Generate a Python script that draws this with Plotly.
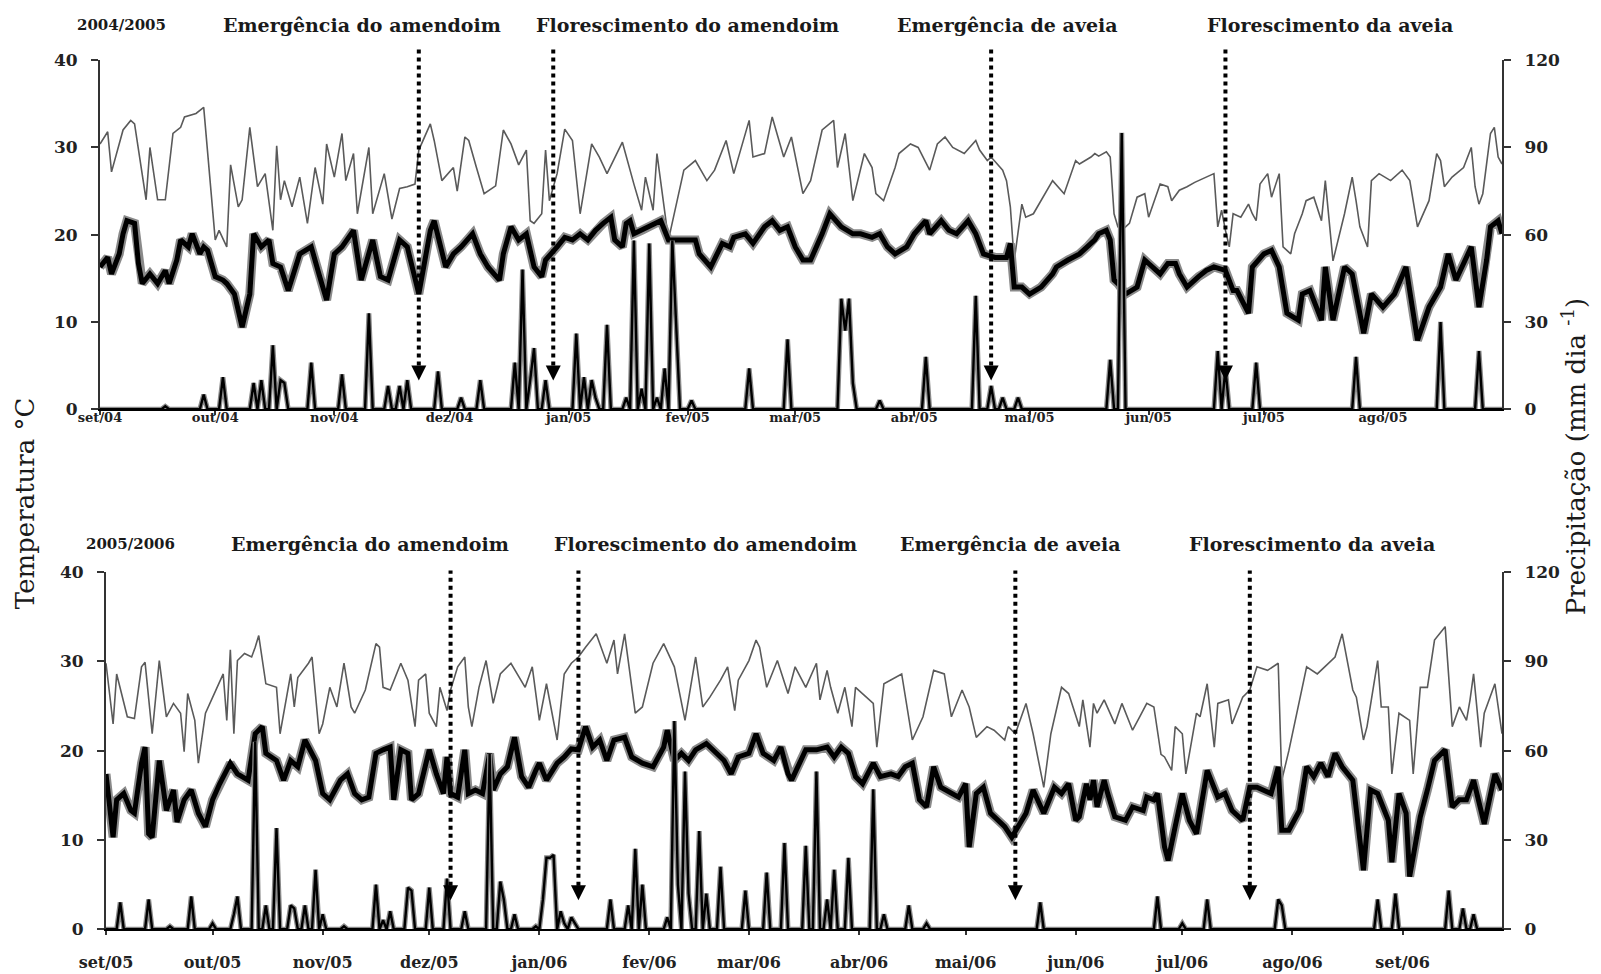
import pandas as pd
import plotly.graph_objects as go

# ---------------- 2004/2005 (day counted from 1 Sep 2004) ----------------
start_0405 = pd.Timestamp('2004-09-01')
end_0405 = pd.Timestamp('2005-09-01')
months_0405 = ['set/04', 'out/04', 'nov/04', 'dez/04', 'jan/05', 'fev/05',
               'mar/05', 'abr/05', 'mai/05', 'jun/05', 'jul/05', 'ago/05']

# max temperature (day, °C)
tmax_0405 = [
    (0, 30.4), (2, 31.8), (3, 27.2), (6, 32.0), (8, 33.1), (9, 32.7), (12, 24.0), (13, 30.0), (15, 24.0),
    (17, 24.0), (19, 31.6), (21, 32.3), (22, 33.5), (25, 33.9), (27, 34.6), (30, 19.4), (31, 20.5), (33, 18.6),
    (34, 28.0), (36, 23.2), (37, 24.0), (39, 32.3), (41, 25.5), (43, 27.0), (45, 20.5), (46, 30.2), (47, 24.0),
    (48, 26.2), (50, 23.2), (52, 26.6), (54, 21.3), (56, 27.7), (58, 23.5), (59, 30.4), (61, 26.6), (63, 31.6),
    (64, 26.2), (66, 29.3), (67, 22.4), (70, 30.0), (71, 22.4), (74, 27.0), (76, 21.8), (78, 25.3), (80, 25.5),
    (82, 25.8), (83, 29.7), (86, 32.7), (87, 30.8), (89, 26.2), (92, 27.7), (93, 25.0), (95, 31.2), (96, 30.8),
    (98, 27.7), (100, 24.7), (103, 25.6), (105, 32.0), (107, 30.4), (109, 28.0), (111, 29.7), (112, 21.6),
    (113, 21.3), (115, 22.4), (116, 29.7), (117, 23.9), (119, 27.0), (121, 32.1), (123, 30.8), (125, 22.4),
    (128, 30.4), (130, 28.9), (132, 27.0), (136, 30.6), (139, 25.8), (141, 22.8), (142, 26.6), (144, 22.8),
    (145, 29.3), (147, 22.8), (148, 19.4), (152, 27.4), (155, 28.5), (158, 26.2), (160, 27.4), (163, 30.8),
    (165, 27.0), (169, 33.1), (170, 28.9), (173, 29.3), (175, 33.5), (178, 28.9), (180, 31.2), (183, 24.7),
    (185, 26.2), (188, 32.0), (191, 33.1), (192, 27.7), (194, 31.6), (196, 23.9), (199, 29.3), (201, 27.7),
    (202, 24.7), (204, 23.9), (207, 27.7), (208, 29.3), (211, 30.4), (213, 30.0), (216, 27.4), (218, 30.4),
    (220, 31.2), (222, 30.0), (225, 29.3), (228, 30.8), (229, 29.7), (231, 28.5), (232, 28.9), (235, 27.4),
    (236, 26.2), (237, 23.2), (238, 17.0), (240, 23.5), (241, 22.0), (243, 22.4), (246, 24.7), (248, 26.2),
    (251, 24.7), (254, 28.5), (255, 28.1), (258, 28.9), (259, 29.3), (260, 29.0), (262, 29.5), (263, 28.9),
    (264, 22.4), (265, 20.9), (266, 20.5), (268, 21.3), (270, 24.3), (272, 24.7), (273, 22.0), (276, 25.8),
    (278, 25.5), (279, 23.9), (281, 25.1), (283, 25.5), (285, 26.0), (286, 26.2), (288, 26.6), (290, 27.0),
    (291, 20.9), (292, 22.8), (293, 20.5), (294, 18.6), (295, 22.4), (297, 22.0), (299, 23.5), (300, 22.4),
    (301, 21.6), (302, 25.8), (304, 27.0), (305, 24.3), (307, 27.0), (308, 18.6), (310, 17.8), (311, 20.1),
    (313, 22.4), (314, 23.9), (316, 24.3), (318, 21.6), (319, 26.2), (321, 17.0), (324, 22.4), (326, 26.6),
    (327, 23.9), (328, 20.9), (330, 18.6), (331, 26.2), (333, 27.0), (336, 26.2), (339, 27.4), (341, 26.2),
    (343, 20.9), (346, 23.9), (348, 29.3), (349, 28.5), (350, 25.5), (352, 26.6), (355, 27.7), (357, 30.0),
    (358, 25.5), (359, 23.5), (360, 24.7), (362, 31.6), (363, 32.3), (364, 28.9), (365, 28.1),
]

# min temperature (day, °C)
tmin_0405 = [
    (0, 16.3), (2, 17.4), (3, 15.5), (5, 17.8), (6, 20.1), (7, 21.6), (9, 21.3), (10, 16.7), (11, 14.4),
    (13, 15.5), (15, 14.4), (17, 15.9), (18, 14.4), (20, 17.1), (21, 19.4), (23, 18.6), (24, 20.1), (26, 17.8),
    (27, 18.6), (28, 18.2), (30, 15.2), (32, 14.8), (33, 14.4), (35, 13.2), (37, 9.4), (39, 13.2), (40, 20.1),
    (42, 18.6), (44, 19.4), (45, 16.7), (47, 16.3), (49, 13.6), (52, 17.8), (55, 18.6), (57, 15.5), (59, 12.5),
    (61, 17.8), (63, 18.6), (66, 20.5), (68, 14.8), (71, 19.4), (73, 15.2), (75, 14.8), (78, 19.4), (80, 18.6),
    (83, 13.2), (86, 20.5), (87, 21.6), (90, 16.3), (92, 17.8), (94, 18.6), (97, 20.1), (99, 17.8), (101, 16.3),
    (104, 14.8), (105, 17.8), (107, 20.9), (109, 19.4), (111, 20.1), (113, 16.3), (115, 15.2), (116, 17.1),
    (119, 18.6), (121, 19.7), (123, 19.4), (125, 20.1), (127, 19.4), (129, 20.5), (131, 21.3), (133, 22.0),
    (134, 19.4), (136, 18.6), (137, 21.3), (138, 21.6), (139, 20.1), (141, 20.5), (143, 20.9), (146, 21.6),
    (148, 19.4), (149, 19.4), (151, 19.4), (155, 19.4), (156, 17.8), (159, 16.3), (162, 19.0), (164, 18.6),
    (165, 19.7), (168, 20.1), (170, 19.0), (173, 20.9), (175, 21.6), (177, 20.5), (179, 20.9), (181, 18.6),
    (183, 17.1), (185, 17.1), (188, 20.1), (190, 22.4), (193, 20.9), (196, 20.1), (198, 20.1), (201, 19.7),
    (203, 20.1), (205, 18.6), (207, 17.8), (210, 18.6), (212, 20.1), (215, 21.6), (216, 20.1), (219, 21.6),
    (221, 20.5), (223, 20.1), (226, 21.6), (228, 20.1), (230, 17.8), (233, 17.4), (236, 17.4), (237, 19.0),
    (238, 14.0), (240, 14.0), (242, 13.2), (245, 14.0), (248, 15.5), (249, 16.3), (252, 17.1), (255, 17.8),
    (257, 18.6), (259, 19.4), (260, 20.1), (262, 20.5), (263, 19.4), (264, 14.8), (265, 14.4), (267, 13.2),
    (270, 14.0), (272, 17.1), (273, 16.7), (276, 15.5), (278, 16.7), (280, 16.7), (281, 15.5), (283, 14.0),
    (286, 15.2), (288, 15.9), (290, 16.3), (293, 15.9), (295, 13.6), (296, 13.6), (299, 11.0), (300, 16.3),
    (303, 17.8), (305, 18.2), (307, 16.3), (309, 11.0), (312, 10.2), (313, 13.2), (315, 13.6), (318, 10.2),
    (319, 16.3), (321, 10.2), (324, 16.3), (326, 15.5), (329, 8.7), (331, 13.2), (334, 11.7), (337, 13.2),
    (340, 16.3), (343, 7.9), (346, 11.7), (349, 14.0), (351, 17.8), (353, 14.8), (357, 18.6), (359, 11.7),
    (361, 17.1), (362, 20.9), (364, 21.6), (365, 20.1),
]

# rainy days (day, mm); all other days are dry (0 mm)
rain_0405 = [
    (17, 1), (27, 5), (32, 11), (40, 9), (42, 10), (45, 22), (47, 10), (48, 9), (55, 16), (63, 12), (70, 33),
    (75, 8), (78, 8), (80, 10), (88, 13), (94, 4), (99, 10), (108, 16), (110, 48), (112, 10), (113, 21),
    (116, 10), (124, 26), (126, 11), (128, 10), (129, 4), (132, 29), (137, 4), (139, 58), (141, 7), (143, 57),
    (145, 4), (147, 14), (149, 58), (150, 26), (154, 3), (169, 14), (179, 24), (193, 38), (194, 27), (195, 38),
    (196, 9), (203, 3), (215, 18), (228, 39), (232, 8), (235, 4), (239, 4), (263, 17), (266, 95), (291, 20),
    (293, 14), (301, 16), (327, 18), (349, 30), (359, 20),
]
events_0405 = ['2004-11-23', '2004-12-28', '2005-04-21', '2005-06-21']

# ---------------- 2005/2006 (day counted from 1 Sep 2005) ----------------
start_0506 = pd.Timestamp('2005-09-01')
end_0506 = pd.Timestamp('2006-09-29')
months_0506 = ['set/05', 'out/05', 'nov/05', 'dez/05', 'jan/06', 'fev/06', 'mar/06',
               'abr/06', 'mai/06', 'jun/06', 'jul/06', 'ago/06', 'set/06']

tmax_0506 = [
    (0, 29.8), (2, 23.0), (3, 28.6), (6, 23.8), (8, 23.6), (10, 29.4), (11, 29.9), (13, 21.9), (15, 30.1),
    (17, 23.8), (19, 25.3), (21, 24.2), (22, 19.9), (23, 26.4), (25, 23.4), (26, 18.6), (28, 24.2), (31, 26.8),
    (33, 28.6), (34, 23.4), (35, 31.3), (36, 21.9), (37, 30.1), (39, 30.9), (41, 30.5), (42, 31.6), (43, 32.9),
    (45, 27.5), (48, 27.1), (49, 21.9), (52, 28.6), (53, 24.9), (54, 28.2), (57, 29.8), (58, 30.5), (60, 21.9),
    (61, 23.0), (63, 27.1), (65, 24.9), (67, 29.8), (69, 24.9), (70, 24.2), (72, 26.0), (73, 26.8), (76, 32.0),
    (77, 31.6), (78, 27.1), (80, 26.8), (83, 29.8), (85, 27.9), (87, 22.7), (88, 27.9), (90, 28.6), (91, 24.2),
    (93, 22.7), (94, 27.1), (96, 24.5), (97, 26.8), (99, 29.4), (101, 30.5), (102, 24.9), (103, 22.7),
    (105, 27.1), (107, 30.1), (109, 25.3), (111, 28.6), (114, 29.8), (118, 27.1), (120, 29.4), (122, 23.4),
    (124, 27.5), (127, 21.2), (129, 28.6), (131, 29.8), (133, 30.5), (135, 31.6), (138, 33.1), (141, 29.8),
    (143, 32.4), (144, 28.6), (146, 33.1), (149, 24.2), (151, 24.9), (154, 29.8), (157, 32.0), (160, 29.4),
    (163, 23.4), (166, 30.5), (168, 24.9), (170, 26.0), (173, 27.9), (175, 29.4), (177, 24.5), (178, 27.9),
    (181, 30.1), (183, 32.4), (184, 31.6), (186, 27.1), (189, 30.1), (192, 26.4), (194, 29.4), (197, 27.1),
    (200, 29.8), (201, 25.7), (203, 29.0), (204, 27.1), (206, 24.2), (208, 27.1), (210, 22.7), (211, 27.1),
    (216, 25.3), (217, 20.4), (219, 27.5), (224, 28.6), (227, 21.2), (230, 23.8), (233, 29.0), (236, 28.6),
    (238, 23.8), (241, 26.8), (243, 24.9), (245, 21.5), (248, 22.7), (250, 22.3), (253, 21.2), (254, 22.7),
    (256, 21.9), (259, 25.3), (261, 21.9), (264, 15.9), (266, 21.9), (269, 27.1), (271, 26.4), (274, 22.7),
    (275, 25.7), (277, 20.4), (278, 25.3), (279, 24.2), (281, 25.7), (284, 23.0), (286, 25.3), (289, 22.3),
    (291, 23.8), (293, 25.3), (295, 24.9), (297, 19.6), (298, 19.3), (300, 17.8), (301, 22.7), (303, 21.9),
    (304, 17.4), (307, 24.2), (308, 23.8), (310, 27.5), (312, 20.4), (313, 25.3), (316, 25.7), (317, 23.0),
    (320, 26.0), (322, 26.8), (324, 29.4), (327, 29.0), (330, 29.8), (331, 16.7), (333, 20.0), (338, 29.4),
    (341, 28.6), (344, 29.8), (346, 30.5), (348, 33.1), (351, 26.8), (352, 26.0), (354, 21.2), (355, 22.7),
    (358, 30.1), (359, 24.9), (361, 24.9), (362, 17.4), (364, 24.2), (367, 23.4), (368, 17.4), (370, 27.1),
    (372, 27.1), (374, 32.4), (377, 33.9), (379, 22.7), (381, 24.9), (383, 23.4), (384, 25.7), (385, 28.6),
    (387, 20.4), (388, 24.2), (391, 27.5), (393, 21.9),
]

tmin_0506 = [
    (0, 17.4), (2, 10.3), (3, 14.5), (5, 15.2), (7, 13.3), (8, 13.0), (10, 18.6), (11, 20.4), (12, 10.7),
    (13, 10.3), (15, 18.9), (17, 13.3), (19, 15.6), (20, 12.0), (22, 14.5), (24, 15.6), (26, 13.0), (28, 11.5),
    (30, 14.5), (32, 16.3), (35, 18.6), (37, 17.4), (40, 16.7), (42, 21.9), (44, 22.7), (45, 19.7), (48, 18.9),
    (50, 16.7), (52, 18.9), (54, 18.2), (56, 21.2), (59, 18.9), (61, 15.2), (63, 14.5), (66, 16.7), (68, 17.4),
    (70, 15.2), (72, 14.5), (74, 14.8), (76, 19.7), (78, 20.1), (80, 20.4), (81, 14.5), (83, 20.1), (85, 19.7),
    (86, 14.5), (88, 15.2), (91, 20.1), (93, 17.4), (95, 15.2), (96, 19.3), (97, 15.2), (99, 14.8), (101, 20.1),
    (102, 15.2), (104, 15.6), (106, 15.2), (108, 19.7), (109, 15.6), (111, 17.4), (113, 18.2), (115, 21.5),
    (117, 17.1), (119, 15.9), (121, 17.8), (122, 18.6), (124, 16.7), (127, 18.6), (129, 19.3), (131, 20.2),
    (133, 20.1), (135, 22.7), (137, 20.4), (139, 21.2), (141, 18.9), (143, 21.2), (146, 21.5), (148, 19.3),
    (151, 18.6), (154, 18.2), (157, 20.4), (158, 22.3), (160, 18.9), (162, 19.7), (164, 18.9), (166, 20.1),
    (169, 20.8), (172, 19.7), (174, 18.9), (176, 17.4), (178, 19.3), (181, 19.7), (183, 21.9), (185, 19.7),
    (188, 18.9), (190, 20.4), (192, 17.4), (193, 16.7), (197, 20.1), (200, 20.1), (203, 20.4), (205, 19.3),
    (207, 20.4), (209, 19.7), (211, 17.1), (213, 16.3), (216, 18.6), (218, 17.1), (221, 17.4), (223, 17.1),
    (225, 18.2), (227, 18.6), (229, 14.5), (231, 13.7), (233, 18.2), (235, 15.9), (238, 15.2), (240, 14.8),
    (242, 16.3), (243, 9.2), (245, 15.2), (247, 15.9), (249, 13.0), (251, 12.2), (253, 11.5), (255, 10.3),
    (257, 11.8), (259, 13.0), (261, 15.6), (264, 13.0), (267, 15.9), (269, 15.2), (271, 16.3), (273, 12.2),
    (274, 12.6), (276, 16.3), (277, 14.5), (278, 16.7), (279, 13.7), (281, 16.7), (282, 15.2), (284, 12.6),
    (287, 12.2), (289, 13.7), (292, 13.3), (293, 14.8), (295, 14.5), (296, 15.2), (298, 9.2), (299, 7.7),
    (301, 11.5), (303, 15.2), (305, 12.2), (307, 10.7), (310, 17.8), (313, 14.8), (315, 15.2), (317, 13.3),
    (320, 12.2), (322, 15.9), (324, 15.9), (328, 15.2), (330, 18.2), (331, 11.1), (333, 11.1), (336, 13.3),
    (338, 18.2), (340, 17.1), (342, 18.6), (344, 17.1), (346, 19.7), (348, 18.2), (351, 16.7), (354, 6.6),
    (356, 15.6), (358, 15.2), (361, 12.2), (362, 7.5), (364, 15.2), (366, 13.0), (367, 5.9), (370, 12.6),
    (372, 15.6), (374, 18.9), (377, 20.1), (379, 13.7), (381, 14.5), (383, 14.5), (385, 16.7), (387, 13.0),
    (388, 11.8), (391, 17.4), (393, 15.6),
]

rain_0506 = [
    (4, 9), (12, 10), (18, 1), (24, 11), (30, 2), (36, 5), (37, 11), (42, 63), (45, 8), (48, 34), (52, 8),
    (53, 7), (56, 8), (59, 20), (61, 5), (67, 1), (76, 15), (78, 3), (80, 6), (85, 14), (86, 13), (91, 14),
    (96, 17), (101, 6), (108, 59), (111, 16), (112, 10), (115, 5), (121, 1), (123, 10), (124, 24), (125, 24),
    (126, 25), (128, 6), (129, 2), (131, 4), (132, 2), (142, 10), (147, 8), (149, 27), (151, 15), (158, 4),
    (160, 70), (161, 15), (163, 53), (164, 12), (167, 33), (169, 12), (173, 21), (180, 13), (186, 19),
    (191, 29), (197, 28), (200, 53), (203, 10), (205, 20), (209, 24), (216, 47), (219, 5), (226, 8), (231, 2),
    (263, 9), (296, 11), (303, 2), (310, 10), (330, 10), (331, 8), (358, 10), (363, 12), (378, 13), (382, 7),
    (385, 5),
]
events_0506 = ['2005-12-07', '2006-01-12', '2006-05-15', '2006-07-20']

event_names = ['Emergência do amendoim', 'Florescimento do amendoim',
               'Emergência de aveia', 'Florescimento da aveia']

SERIF = 'DejaVu Serif'


def to_dates(start, days):
    return [start + pd.Timedelta(days=int(d)) for d in days]


def add_season(fig, start, end, tmax, tmin, rain, xa, ya, ya2):
    d, v = zip(*tmax)
    fig.add_trace(go.Scatter(x=to_dates(start, d), y=v, xaxis=xa, yaxis=ya, mode='lines',
                             line=dict(color='#5a5a5a', width=1.6)))
    d, v = zip(*tmin)
    dates = to_dates(start, d)
    fig.add_trace(go.Scatter(x=dates, y=v, xaxis=xa, yaxis=ya, mode='lines',
                             line=dict(color='#8a8a8a', width=9)))
    fig.add_trace(go.Scatter(x=dates, y=v, xaxis=xa, yaxis=ya, mode='lines',
                             line=dict(color='black', width=5)))
    # daily rainfall, dry days are zero
    n_days = (end - start).days
    daily = pd.Series(0.0, index=range(n_days + 1))
    d, v = zip(*rain)
    daily.loc[list(d)] = list(v)
    dates = to_dates(start, daily.index)
    fig.add_trace(go.Scatter(x=dates, y=daily.values, xaxis=xa, yaxis=ya2, mode='lines',
                             line=dict(color='#8a8a8a', width=5)))
    fig.add_trace(go.Scatter(x=dates, y=daily.values, xaxis=xa, yaxis=ya2, mode='lines',
                             line=dict(color='black', width=2.4)))


fig = go.Figure()
add_season(fig, start_0405, end_0405, tmax_0405, tmin_0405, rain_0405, 'x', 'y', 'y2')
add_season(fig, start_0506, end_0506, tmax_0506, tmin_0506, rain_0506, 'x2', 'y3', 'y4')

# event arrows: dotted shaft + arrow head
shapes = []
annotations = []
for evs, xr, yr, y_low, y_high, tip in [(events_0405, 'x', 'y', 0.125, 1.032, 3.3),
                                        (events_0506, 'x2', 'y3', 0.122, 1.005, 3.25)]:
    for ev in evs:
        shapes.append(dict(type='line', xref=xr, yref=yr + ' domain', x0=ev, x1=ev, y0=y_low, y1=y_high,
                           line=dict(color='black', width=4, dash='dot')))
        annotations.append(dict(x=ev, y=tip, xref=xr, yref=yr, text='', showarrow=True, arrowhead=2,
                                arrowsize=1, arrowwidth=3, arrowcolor='black', ax=0, ay=-16))

# texts above each panel (paper coordinates)
label_font = dict(family=SERIF, size=19, color='#1a1a1a', weight='bold')
season_font = dict(family=SERIF, size=15, color='#1a1a1a', weight='bold')
for season, sx, sy, xs in [('2004/2005', 0.0150, 0.99245, [0.187, 0.4187, 0.6476, 0.8773]),
                           ('2005/2006', 0.0221, 0.44843, [0.1926, 0.4322, 0.6491, 0.8645])]:
    annotations.append(dict(x=sx, y=sy, xref='paper', yref='paper', text=season, showarrow=False,
                            font=season_font, xanchor='center', yanchor='middle'))
    for name, x in zip(event_names, xs):
        annotations.append(dict(x=x, y=sy, xref='paper', yref='paper', text=name, showarrow=False,
                                font=label_font, xanchor='center', yanchor='middle'))

title_font = dict(family=SERIF, size=26, color='#1a1a1a')
annotations.append(dict(x=-0.0535, y=0.4914, xref='paper', yref='paper', text='Temperatura °C',
                        textangle=-90, showarrow=False, font=title_font, xanchor='center', yanchor='middle'))
annotations.append(dict(x=1.0514, y=0.5396, xref='paper', yref='paper',
                        text='Precipitação (mm dia <sup>-1</sup>)', textangle=-90, showarrow=False,
                        font=title_font, xanchor='center', yanchor='middle'))

tick_font = dict(family=SERIF, size=17, color='#222', weight='bold')


def y_axis(domain, anchor, rng, dtick, side='left', overlaying=None):
    ax = dict(domain=domain, anchor=anchor, range=rng, dtick=dtick, tick0=0, side=side,
              showgrid=False, zeroline=False, showline=True, linecolor='#333', linewidth=2,
              ticks='outside', ticklen=7, tickwidth=2, tickcolor='#333', tickfont=tick_font,
              ticklabelstandoff=10, fixedrange=True)
    if overlaying:
        ax['overlaying'] = overlaying
    return ax


def inner_ticks(rng, dtick, side, overlaying, anchor):
    # second set of ticks on the inside, so the ticks cross the axis line
    return dict(range=rng, dtick=dtick, tick0=0, side=side, overlaying=overlaying, anchor=anchor,
                showgrid=False, zeroline=False, showline=False, showticklabels=False,
                ticks='inside', ticklen=7, tickwidth=2, tickcolor='#333', fixedrange=True)


def x_axis(domain, anchor, start, end, labels, size, standoff):
    return dict(domain=domain, anchor=anchor, type='date', range=[start, end],
                tickvals=list(pd.date_range(start, periods=len(labels), freq='MS')), ticktext=labels,
                showgrid=False, zeroline=False, showline=True, linecolor='black', linewidth=2,
                ticks='outside', ticklen=4, tickwidth=1.5, tickcolor='#333',
                tickfont=dict(family=SERIF, size=size, color='#222', weight='bold'),
                ticklabelstandoff=standoff, fixedrange=True)


top_dom = [0.58994, 0.95577]
bot_dom = [0.04486, 0.41908]

fig.update_layout(
    width=1601, height=974,
    margin=dict(l=92, r=107, t=0, b=0),
    plot_bgcolor='white', paper_bgcolor='white',
    showlegend=False,
    xaxis=x_axis([0, 1], 'y', start_0405, end_0405, months_0405, 13, -9),
    xaxis2=x_axis([0.00428, 1], 'y3', start_0506, end_0506, months_0506, 16, 14),
    yaxis=y_axis(top_dom, 'x', [0, 40], 10),
    yaxis2=y_axis(top_dom, 'x', [0, 120], 30, side='right', overlaying='y'),
    yaxis3=y_axis(bot_dom, 'x2', [0, 40], 10),
    yaxis4=y_axis(bot_dom, 'x2', [0, 120], 30, side='right', overlaying='y3'),
    yaxis5=inner_ticks([0, 40], 10, 'left', 'y', 'x'),
    yaxis6=inner_ticks([0, 120], 30, 'right', 'y', 'x'),
    yaxis7=inner_ticks([0, 40], 10, 'left', 'y3', 'x2'),
    yaxis8=inner_ticks([0, 120], 30, 'right', 'y3', 'x2'),
    shapes=shapes,
    annotations=annotations,
)

fig.write_html("out.html")
